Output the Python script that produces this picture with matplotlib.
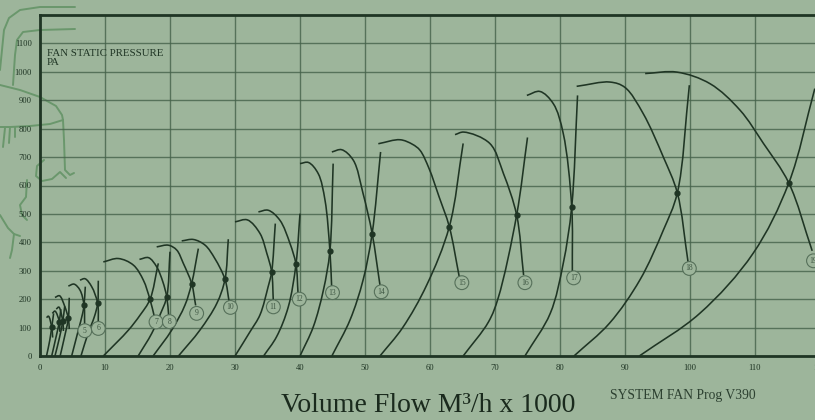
import numpy as np
import matplotlib

matplotlib.use("Agg")
import matplotlib.pyplot as plt
from matplotlib.path import Path
from matplotlib.patches import PathPatch
from matplotlib.lines import Line2D

# operating points of the fans (flow in 1000 m3/h, static pressure in Pa)
op_x = [1.8, 2.97, 3.5, 4.36, 6.77, 8.87, 16.92, 19.5, 23.33, 28.46, 35.64,
        39.38, 44.6, 51.1, 62.97, 73.33, 81.8, 98.05, 115.2]
op_y = [101, 121, 122, 132, 179, 185, 199, 208, 255, 270, 296, 323, 370, 431,
        455, 496, 525, 574, 609]

# fan curves, points
fan_x = [
    [1.0, 1.3, 1.8, 1.95],
    [1.9, 2.3, 2.97, 3.05],
    [2.5, 2.9, 3.5, 3.6],
    [2.3, 3.0, 3.8, 4.36, 4.5],
    [4.36, 5.23, 6.15, 6.77, 6.87],
    [6.15, 6.92, 7.95, 8.87, 8.97],
    [9.74, 12.05, 14.36, 15.9, 16.92, 17.6],
    [15.3, 16.7, 17.95, 18.9, 19.5, 19.8],
    [17.95, 19.74, 21.03, 22.05, 23.33, 23.95],
    [21.8, 23.6, 25.4, 26.9, 28.46, 29.1],
    [30.0, 31.9, 33.85, 34.9, 35.64, 35.9],
    [33.6, 35.1, 36.9, 38.46, 39.38, 39.7],
    [40.0, 41.3, 42.8, 43.85, 44.6, 44.87],
    [44.9, 46.4, 48.2, 49.7, 51.1, 52.3],
    [52.05, 55.4, 57.3, 58.46, 59.85, 61.4, 62.97, 64.5],
    [63.85, 65.2, 69.2, 71.3, 73.33, 74.4],
    [74.9, 76.9, 78.97, 80.5, 81.8, 81.9],
    [82.56, 87.7, 90.0, 92.8, 95.9, 98.05, 99.7],
    [93.1, 98.0, 103.1, 107.7, 111.3, 115.2, 118.8],
]
fan_y = [
    [135, 140, 101, 65],
    [150, 158, 121, 85],
    [165, 172, 122, 88],
    [206, 212, 175, 132, 95],
    [246, 253, 232, 179, 103],
    [267, 272, 244, 185, 109],
    [331, 343, 320, 267, 199, 138],
    [340, 346, 314, 261, 208, 141],
    [384, 390, 373, 326, 255, 178],
    [405, 410, 390, 343, 270, 191],
    [472, 479, 431, 361, 296, 191],
    [507, 513, 478, 396, 323, 220],
    [677, 681, 642, 548, 370, 244],
    [718, 726, 689, 572, 431, 250],
    [747, 761, 745, 724, 660, 560, 455, 279],
    [779, 788, 748, 642, 496, 285],
    [917, 931, 888, 783, 525, 296],
    [949, 964, 945, 853, 700, 574, 331],
    [994, 999, 958, 865, 748, 609, 370],
]

# system curves, from the flow axis up through the operating point
sys_x = [
    [1.0, 1.5, 1.8, 2.1],
    [1.8, 2.5, 2.97, 3.2],
    [2.3, 3.0, 3.5, 3.8],
    [3.1, 3.8, 4.36, 4.5],
    [4.87, 5.9, 6.56, 6.77, 6.97],
    [6.3, 7.4, 8.36, 8.87, 8.97],
    [9.74, 13.6, 15.4, 16.92, 18.2],
    [15.1, 17.2, 18.56, 19.5, 20.0],
    [17.4, 20.26, 22.3, 23.33, 24.36],
    [21.3, 24.6, 27.2, 28.46, 28.97],
    [30.0, 32.3, 33.85, 35.1, 35.64, 36.2],
    [34.4, 36.4, 38.2, 39.38, 40.0],
    [40.0, 42.05, 43.6, 44.6, 45.1],
    [44.9, 47.7, 49.7, 51.1, 52.4],
    [52.3, 55.8, 59.5, 62.97, 65.1],
    [65.1, 69.0, 70.5, 73.33, 75.0],
    [74.6, 78.5, 80.5, 81.8, 82.7],
    [82.15, 87.6, 92.3, 95.9, 98.05, 99.9],
    [92.2, 101.5, 109.7, 115.2, 119.2],
]
sys_y = [
    [0, 55, 101, 150],
    [0, 70, 121, 165],
    [0, 65, 122, 175],
    [0, 70, 132, 205],
    [0, 91, 150, 179, 244],
    [0, 80, 138, 185, 265],
    [0, 91, 144, 199, 326],
    [0, 80, 150, 208, 367],
    [0, 91, 179, 255, 378],
    [0, 91, 185, 270, 411],
    [0, 85, 145, 244, 296, 466],
    [0, 68, 173, 323, 501],
    [0, 103, 232, 370, 677],
    [0, 127, 267, 431, 718],
    [0, 100, 250, 455, 748],
    [0, 120, 205, 496, 769],
    [0, 150, 326, 525, 917],
    [0, 115, 268, 443, 574, 953],
    [0, 150, 361, 609, 941],
]

# numbered fan labels
label_text = ["5", "6", "7", "8", "9", "10", "11", "12", "13", "14", "15",
              "16", "17", "18", "19"]
label_x = [6.9, 8.97, 17.85, 19.9, 24.1, 29.3, 35.9, 39.9, 45.0, 52.5, 64.9,
           74.6, 82.1, 99.9, 119.0]
label_y = [89, 97, 120, 121, 150, 171, 173, 200, 223, 226, 258, 258, 275,
           308, 335]

x_ticks = list(range(0, 130, 10))
y_ticks = list(range(0, 1200, 100))

# faint hand-drawn strokes in the left margin of the scan (figure pixels)
sketch_strokes = [
    [(75, 7), (40, 7), (20, 10), (9, 18), (4, 30), (2, 50), (0, 70)],
    [(75, 29), (40, 30), (23, 32), (17, 40), (15, 55), (13, 85)],
    [(0, 85), (20, 90), (40, 97), (56, 106), (62, 115), (63, 120)],
    [(63, 120), (50, 124), (30, 126), (10, 127), (0, 127)],
    [(5, 128), (3, 147)], [(10, 127), (9, 143)], [(15, 127), (15, 137)],
    [(63, 120), (64, 140), (65, 170), (70, 175), (74, 173)],
    [(44, 160), (37, 166), (36, 176), (42, 181), (52, 179), (60, 172), (66, 178)],
    [(27, 180), (26, 197), (20, 205), (22, 215), (27, 220)],
    [(0, 215), (8, 228), (14, 234), (20, 236)],
    [(14, 234), (12, 250), (10, 258)],
]

BG = "#9db59b"
INK = "#1f3524"
GRID = "#45624a"
SKETCH = "#6a976c"
SERIF = ["Liberation Serif", "DejaVu Serif"]
SX, SY = 6.5, 0.2845  # pixels per data unit, used for the spline spacing


def smooth(xs, ys):
    # centripetal Catmull-Rom through the read points, as cubic Bezier pieces
    pts = np.column_stack([np.asarray(xs, float) * SX, np.asarray(ys, float) * SY])
    ext = np.vstack([2 * pts[0] - pts[1], pts, 2 * pts[-1] - pts[-2]])
    verts = [pts[0]]
    codes = [Path.MOVETO]
    for i in range(len(pts) - 1):
        p0, p1, p2, p3 = ext[i], ext[i + 1], ext[i + 2], ext[i + 3]
        d0 = max(np.hypot(*(p1 - p0)) ** 0.5, 1e-6)
        d1 = max(np.hypot(*(p2 - p1)) ** 0.5, 1e-6)
        d2 = max(np.hypot(*(p3 - p2)) ** 0.5, 1e-6)
        t1 = (p1 - p0) / d0 - (p2 - p0) / (d0 + d1) + (p2 - p1) / d1
        t2 = (p2 - p1) / d1 - (p3 - p1) / (d1 + d2) + (p3 - p2) / d2
        verts += [p1 + t1 * d1 / 3, p2 - t2 * d1 / 3, p2]
        codes += [Path.CURVE4] * 3
    verts = np.array(verts) / [SX, SY]
    return Path(verts, codes)


fig = plt.figure(figsize=(8.15, 4.2), dpi=100)
fig.patch.set_facecolor(BG)

for stroke in sketch_strokes:
    px = np.array(stroke, float)
    fig.add_artist(Line2D(px[:, 0] / 815, 1 - px[:, 1] / 420, color=SKETCH,
                          lw=1.4, solid_capstyle="round", zorder=0))

# axes run past the right edge, as in the scanned sheet
ax = fig.add_axes([40 / 815, 64 / 420, 780 / 815, 341 / 420])
ax.patch.set_alpha(0)
ax.set_xlim(0, 120)
ax.set_ylim(0, 1200)
ax.set_xticks(x_ticks)
ax.set_yticks(y_ticks)
ax.set_xticklabels([str(v) for v in x_ticks], family=SERIF, fontsize=6.2, color=INK)
ax.set_yticklabels([str(v) for v in y_ticks], family=SERIF, fontsize=6.2, color=INK)
ax.tick_params(length=0, pad=6)
ax.grid(True, color=GRID, linewidth=1.0, alpha=0.8)
ax.set_axisbelow(True)
for side in ["left", "bottom", "top"]:
    ax.spines[side].set_color(INK)
    ax.spines[side].set_linewidth(2.0)
ax.spines["right"].set_visible(False)

for xs, ys in zip(fan_x, fan_y):
    ax.add_patch(PathPatch(smooth(xs, ys), fill=False, ec=INK, lw=1.15, zorder=3))
for xs, ys in zip(sys_x, sys_y):
    ax.add_patch(PathPatch(smooth(xs, ys), fill=False, ec=INK, lw=1.15, zorder=3))

ax.plot(op_x, op_y, "o", ms=3.5, color=INK, zorder=4, clip_on=False)

for t, lx, ly in zip(label_text, label_x, label_y):
    ax.text(lx, ly, t, family=SERIF, fontsize=5.5, color="#3e5642",
            ha="center", va="center", zorder=5,
            bbox=dict(boxstyle="circle,pad=0.38", fc=BG, ec="#56705a", lw=0.8))

ax.text(0.009, 0.9, "FAN STATIC PRESSURE\nPA", transform=ax.transAxes,
        family=SERIF, fontsize=7.8, color=INK, va="top", linespacing=1.05)

fig.text(428 / 815, 1 - 405 / 420, "Volume Flow M³/h x 1000", family=SERIF,
         fontsize=20, color="#1a2a1d", ha="center", va="center")
fig.text(683 / 815, 1 - 395 / 420, "SYSTEM FAN Prog V390", family=SERIF,
         fontsize=9.8, color="#2d4131", ha="center", va="center")

fig.savefig("out.png", dpi=100, facecolor=BG)
